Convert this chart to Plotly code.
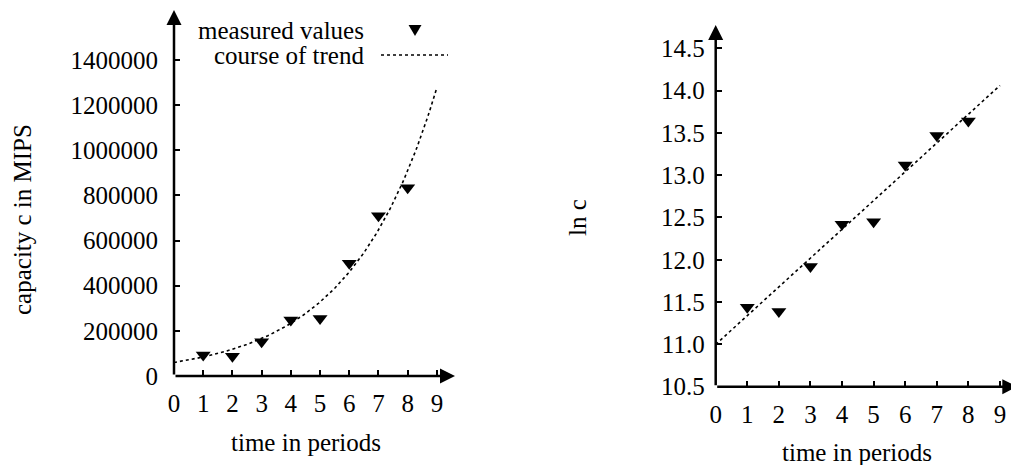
import numpy as np
import plotly.graph_objects as go

# ---- data ----
periods = [1, 2, 3, 4, 5, 6, 7, 8]
capacity = [93000, 88000, 152000, 248000, 255000, 499000, 710000, 834000]
ln_capacity = [11.44, 11.39, 11.92, 12.42, 12.45, 13.12, 13.47, 13.64]
trend_intercept = 11.0   # ln c at t = 0
trend_slope = 0.34       # growth of ln c per period
x_ticks = list(range(10))
left_y_ticks = [0, 200000, 400000, 600000, 800000, 1000000, 1200000, 1400000]
right_y_ticks = [10.5, 11.0, 11.5, 12.0, 12.5, 13.0, 13.5, 14.0, 14.5]

W, H = 1011, 465
FONT = "Liberation Serif"
FS = 25

def px(x):
    return x / W

def py(y):
    return (H - y) / H

t_trend = np.linspace(0, 9, 200)
ln_trend = trend_intercept + trend_slope * t_trend
c_trend = np.exp(ln_trend)

fig = go.Figure()
# left chart
fig.add_trace(go.Scatter(x=t_trend, y=c_trend, mode="lines",
                         line=dict(color="black", width=1.6, dash="dot"),
                         xaxis="x", yaxis="y", showlegend=False, hoverinfo="skip"))
fig.add_trace(go.Scatter(x=periods, y=capacity, mode="markers",
                         marker=dict(symbol="triangle-down", size=13, color="black"),
                         xaxis="x", yaxis="y", showlegend=False))
# right chart
fig.add_trace(go.Scatter(x=t_trend, y=ln_trend, mode="lines",
                         line=dict(color="black", width=1.6, dash="dot"),
                         xaxis="x2", yaxis="y2", showlegend=False, hoverinfo="skip"))
fig.add_trace(go.Scatter(x=periods, y=ln_capacity, mode="markers",
                         marker=dict(symbol="triangle-down", size=13, color="black"),
                         xaxis="x2", yaxis="y2", showlegend=False))

L_X_END = 9.62
L_Y_END = 1621000
R_X_END = 9.35
R_Y_END = 14.775

axis_common = dict(showgrid=False, zeroline=False, showline=False, automargin=False,
                   ticks="inside", ticklen=6, tickwidth=1.5, tickcolor="black",
                   ticklabeloverflow="allow",
                   tickfont=dict(family=FONT, size=FS, color="black"))

fig.update_layout(
    width=W, height=H,
    margin=dict(l=0, r=0, t=0, b=0),
    paper_bgcolor="white", plot_bgcolor="white",
    font=dict(family=FONT, size=FS, color="black"),
    xaxis=dict(domain=[px(174), px(455)], range=[0, L_X_END], tickvals=x_ticks,
               ticklabelstandoff=10, anchor="y", **axis_common),
    yaxis=dict(domain=[py(376), py(10)], range=[0, L_Y_END], tickvals=left_y_ticks,
               tickformat="d", ticklabelstandoff=15, anchor="x", **axis_common),
    xaxis2=dict(domain=[px(715.7), 1.0], range=[0, R_X_END], tickvals=x_ticks,
                ticklabelstandoff=10, anchor="y2", **axis_common),
    yaxis2=dict(domain=[py(386.7), py(25)], range=[10.5, R_Y_END], tickvals=right_y_ticks,
                tickformat=".1f", ticklabelstandoff=10, anchor="x2", **axis_common),
)

def arrow(xref, yref, x, y, ax, ay):
    return dict(xref=xref, yref=yref, axref=xref, ayref=yref, x=x, y=y, ax=ax, ay=ay,
                text="", showarrow=True, arrowhead=2, arrowsize=1.2, arrowwidth=2.5,
                arrowcolor="black", standoff=0, startstandoff=0)

annotations = [
    arrow("x", "y", L_X_END, 0, 0, 0),
    arrow("x", "y", 0, L_Y_END, 0, 0),
    arrow("x2", "y2", R_X_END + 0.2, 10.5, 0, 10.5),
    arrow("x2", "y2", 0, R_Y_END, 0, 10.5),
    dict(xref="paper", yref="paper", x=px(22), y=py(220), text="capacity c in MIPS",
         textangle=-90, showarrow=False, xanchor="center", yanchor="middle"),
    dict(xref="paper", yref="paper", x=px(306), y=py(442), text="time in periods",
         showarrow=False, xanchor="center", yanchor="middle"),
    dict(xref="paper", yref="paper", x=px(577), y=py(218), text="ln c",
         textangle=-90, showarrow=False, xanchor="center", yanchor="middle"),
    dict(xref="paper", yref="paper", x=px(857), y=py(452), text="time in periods",
         showarrow=False, xanchor="center", yanchor="middle"),
    dict(xref="paper", yref="paper", x=px(366), y=py(30), text="measured values",
         showarrow=False, xanchor="right", yanchor="middle"),
    dict(xref="paper", yref="paper", x=px(366), y=py(55), text="course of trend",
         showarrow=False, xanchor="right", yanchor="middle"),
]
fig.update_layout(annotations=annotations)

# legend symbols
tri = "M {:.4f} {:.4f} L {:.4f} {:.4f} L {:.4f} {:.4f} Z".format(
    px(408.5), py(25), px(421.5), py(25), px(415), py(36))
fig.add_shape(type="path", xref="paper", yref="paper", path=tri,
              fillcolor="black", line=dict(color="black", width=0))
fig.add_shape(type="line", xref="paper", yref="paper",
              x0=px(381), y0=py(55), x1=px(448), y1=py(55),
              line=dict(color="black", width=1.6, dash="dot"))

fig.write_html("out.html", config={"displayModeBar": False},
               post_script="document.body.style.margin='0';document.body.style.overflow='hidden';")
